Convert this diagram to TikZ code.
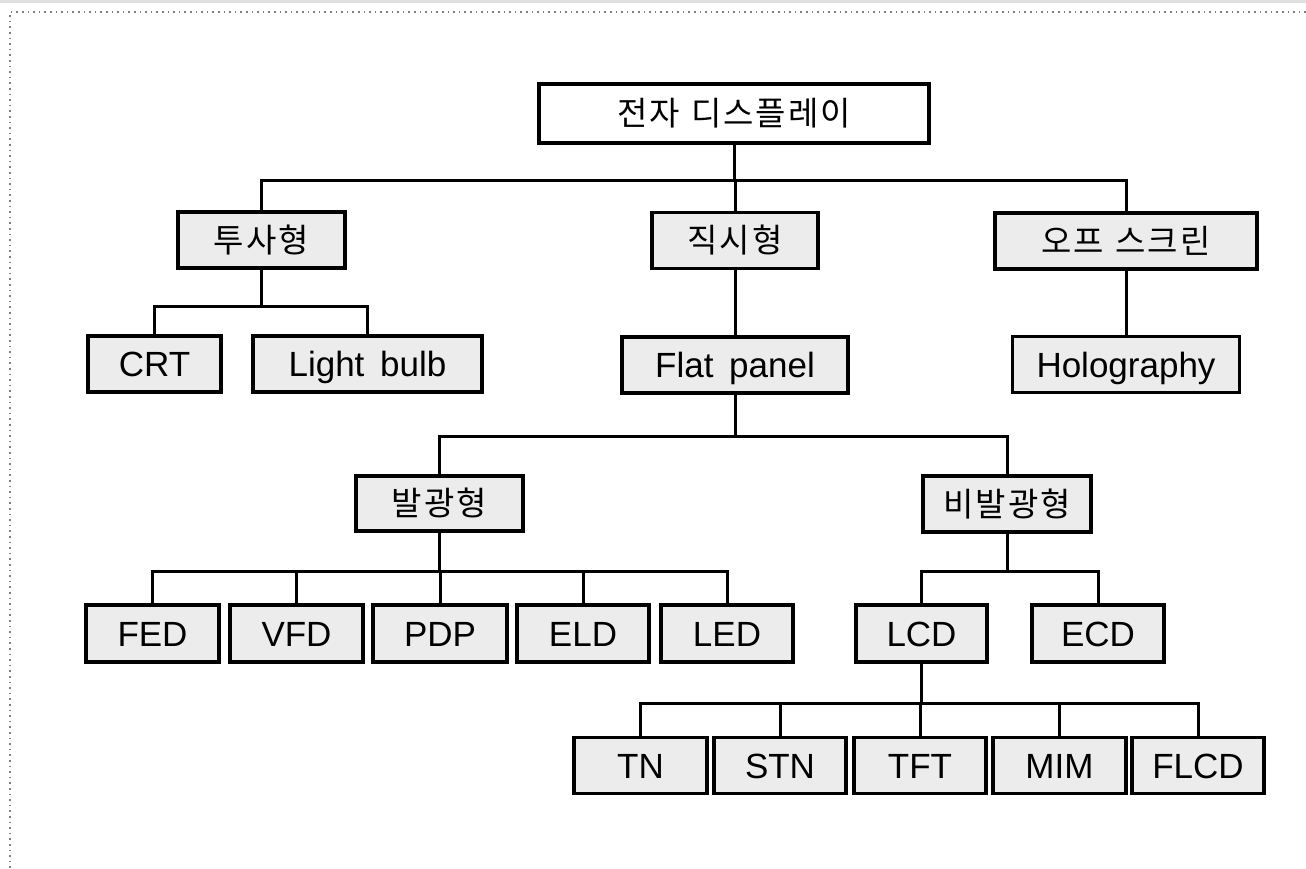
\documentclass[tikz,border=0pt]{standalone}
\usepackage{fontspec}
\setmainfont{Liberation Sans}
\newfontfamily\kr[LetterSpace=6]{Noto Sans CJK KR}
\begin{document}
\begin{tikzpicture}[x=0.5pt,y=-0.5pt,
  box/.style={draw=black,line width=1.7pt,fill=gray!15,inner sep=0pt,
    minimum height=28pt,font=\fontsize{17.5}{20}\selectfont,
    text height=12.5pt,text depth=0pt},
  rootbox/.style={box,fill=white},
  krt/.style={font=\kr\fontsize{16.5}{19}\selectfont,text height=12.5pt,text depth=0.5pt},
  conn/.style={line width=1.5pt,line cap=rect}]
\useasboundingbox (0,0) rectangle (1306,868);
\fill[gray!25] (0,0) rectangle (1306,3);
\draw[gray,line width=0.8pt,dotted] (1306,12) -- (10,12) -- (10,868);
% level 0
\node[rootbox,krt,minimum width=195pt,minimum height=29.5pt] (root) at (734,113.5) {전자\hspace{0.35em}디스플레이};
% level 1
\node[box,krt,minimum width=83.5pt] (tusa) at (261.5,240) {투사형};
\node[box,krt,minimum width=83pt] (jiksi) at (735,240.5) {직시형};
\node[box,krt,minimum width=131pt] (off) at (1126,241) {오프\hspace{0.35em}스크린};
% level 2
\node[box,minimum width=66.5pt] (crt) at (154.5,364) {CRT};
\node[box,minimum width=114.5pt] (bulb) at (367.5,364) {Light\hspace{0.45em}bulb};
\node[box,minimum width=113pt] (flat) at (735,365) {Flat\hspace{0.45em}panel};
\node[box,minimum width=113.5pt] (holo) at (1126,364.5) {Holography};
% level 3
\node[box,krt,minimum width=83.5pt,minimum height=27.5pt] (bal) at (439.5,503.5) {발광형};
\node[box,krt,minimum width=84pt] (bibal) at (1007,504) {비발광형};
% level 4
\node[box,minimum width=66.5pt,minimum height=28.5pt] (fed) at (152.5,633.5) {FED};
\node[box,minimum width=66.5pt,minimum height=28.5pt] (vfd) at (296.5,633.5) {VFD};
\node[box,minimum width=67pt,minimum height=28.5pt] (pdp) at (440,633.5) {PDP};
\node[box,minimum width=66pt,minimum height=28.5pt] (eld) at (583,633.5) {ELD};
\node[box,minimum width=66pt,minimum height=28.5pt] (led) at (727,633.5) {LED};
\node[box,minimum width=65.5pt,minimum height=28.5pt] (lcd) at (921.5,633.5) {LCD};
\node[box,minimum width=66pt,minimum height=28.5pt] (ecd) at (1098,633.5) {ECD};
% level 5
\node[box,minimum width=66.5pt] (tn) at (640.5,765.5) {TN};
\node[box,minimum width=66pt] (stn) at (780,765.5) {STN};
\node[box,minimum width=66pt] (tft) at (920,765.5) {TFT};
\node[box,minimum width=66.5pt] (mim) at (1059.5,765.5) {MIM};
\node[box,minimum width=66pt] (flcd) at (1198,765.5) {FLCD};
% bus levels
\coordinate (b0) at (0,180);
\coordinate (b1) at (0,306);
\coordinate (b2) at (0,436.5);
\coordinate (b3) at (0,571.5);
\coordinate (b4) at (0,703);
% connectors
\draw[conn] (root.south) -- (root.south |- b0);
\draw[conn] (tusa.north) |- (root.south |- b0) -| (off.north);
\draw[conn] (jiksi.north) -- (jiksi.north |- b0);
\draw[conn] (tusa.south) -- (tusa.south |- b1);
\draw[conn] (crt.north) |- (tusa.south |- b1) -| (bulb.north);
\draw[conn] (jiksi.south) -- (flat.north);
\draw[conn] (off.south) -- (holo.north);
\draw[conn] (flat.south) -- (flat.south |- b2);
\draw[conn] (bal.north) |- (flat.south |- b2) -| (bibal.north);
\draw[conn] (bal.south) -- (bal.south |- b3);
\draw[conn] (fed.north) |- (bal.south |- b3) -| (led.north);
\draw[conn] (vfd.north) -- (vfd.north |- b3);
\draw[conn] (pdp.north) -- (pdp.north |- b3);
\draw[conn] (eld.north) -- (eld.north |- b3);
\draw[conn] (bibal.south) -- (bibal.south |- b3);
\draw[conn] (lcd.north) |- (bibal.south |- b3) -| (ecd.north);
\draw[conn] (lcd.south) -- (lcd.south |- b4);
\draw[conn] (tn.north) |- (lcd.south |- b4) -| (flcd.north);
\draw[conn] (stn.north) -- (stn.north |- b4);
\draw[conn] (tft.north) -- (tft.north |- b4);
\draw[conn] (mim.north) -- (mim.north |- b4);
\end{tikzpicture}
\end{document}
